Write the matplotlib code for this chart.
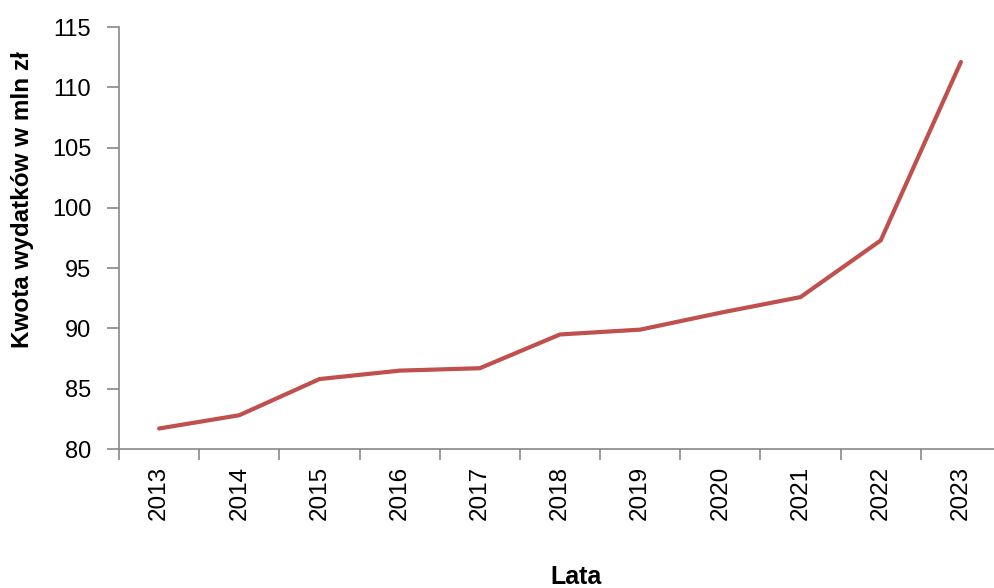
import matplotlib
matplotlib.use("Agg")
import matplotlib.pyplot as plt

plt.rcParams["font.family"] = ["Liberation Sans", "DejaVu Sans"]

years = ["2013", "2014", "2015", "2016", "2017", "2018", "2019", "2020", "2021", "2022", "2023"]
amounts = [81.7, 82.8, 85.8, 86.5, 86.7, 89.5, 89.9, 91.3, 92.6, 97.3, 112.1]

W, H = 995, 588
fig = plt.figure(figsize=(W / 100, H / 100), dpi=100)
ax = fig.add_axes([119 / W, 1 - 449 / H, (1001 - 119) / W, (449 - 27) / H])

x = list(range(len(years)))
ax.plot(x, amounts, color="#C0504D", linewidth=3, solid_capstyle="round")

ax.set_xlim(-0.5, len(years) - 0.5)
ax.set_ylim(80, 115)
ax.set_yticks(range(80, 116, 5))
ax.set_xticks(x)
ax.set_xticklabels(years, rotation=90, fontsize=17.5)
ax.set_xticks([i + 0.5 for i in range(-1, len(years))], minor=True)
ax.tick_params(axis="x", which="major", length=0, pad=12)
ax.tick_params(axis="x", which="minor", length=8, color="#888888", width=1.2)
ax.tick_params(axis="y", length=9, color="#888888", width=1.2, labelsize=17, pad=11)

for side in ["top", "right"]:
    ax.spines[side].set_visible(False)
for side in ["left", "bottom"]:
    ax.spines[side].set_color("#888888")
    ax.spines[side].set_linewidth(1.2)

fig.text(23 / W, 1 - 200 / H, "Kwota wydatków w mln zł", rotation=90,
         ha="center", va="center", fontsize=17.5, fontweight="bold")
fig.text(576 / W, 1 - 577 / H, "Lata", ha="center", va="center",
         fontsize=18, fontweight="bold")

fig.savefig("out.png", dpi=100)
